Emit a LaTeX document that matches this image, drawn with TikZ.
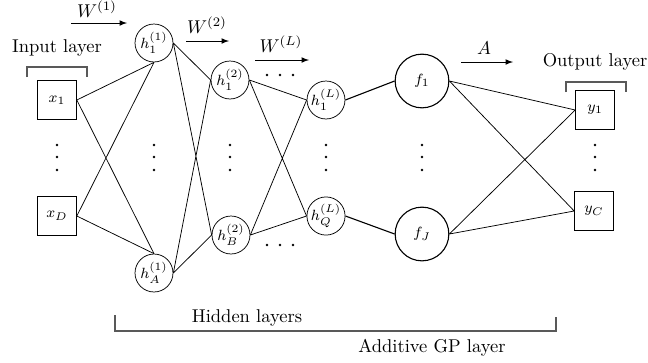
\documentclass[tikz,border=0pt]{standalone}
\usepackage{amsmath}
\usepackage{tikz}

\begin{document}
\begin{tikzpicture}[x=0.54pt,y=-0.54pt,
  unit/.style={draw, shape=circle, minimum size=20.5pt, inner sep=0pt, font=\footnotesize},
  gpunit/.style={draw, semithick, shape=circle, minimum size=29pt, inner sep=0pt, font=\footnotesize},
  io/.style={draw, shape=rectangle, minimum size=21pt, inner sep=0pt, font=\footnotesize},
  lbl/.style={anchor=base, inner sep=0pt},
  brace/.style={draw=black!65, semithick}]
\useasboundingbox (0,0) rectangle (648,362);
% input and output layers
\node at (57,100) [io] (x1) {$x_1$};
\node at (57,216) [io] (xD) {$x_D$};
\node at (595,110) [io] (y1) {$y_1$};
\node at (594,211) [io] (yC) {$y_C$};
% hidden layers
\node at (154,43) [unit] (h11) {$h_1^{(1)}$};
\node at (154,273) [unit] (hA1) {$h_A^{(1)}$};
\node at (230,80) [unit] (h12) {$h_1^{(2)}$};
\node at (231,235) [unit] (hB2) {$h_B^{(2)}$};
\node at (326,100) [unit] (h1L) {$h_1^{(L)}$};
\node at (326,216) [unit] (hQL) {$h_Q^{(L)}$};
% additive GP layer
\node at (422,81) [gpunit] (f1) {$f_1$};
\node at (422,234) [gpunit] (fJ) {$f_J$};
% dots
\foreach \x in {57,154,230,326,422,595}
  \foreach \y in {145,157,170}
    \fill (\x,\y) circle (0.8pt);
\foreach \x in {267,280,293}
  \fill (\x,75) circle (0.8pt) (\x,245) circle (0.8pt);
% connections
\draw
(x1.east) -- (h11.south)  (x1.east) -- (hA1.north)
(xD.east) -- (h11.south)  (xD.east) -- (hA1.north)
(h11.east) -- (h12.west)  (h11.east) -- (hB2.west)
(hA1.east) -- (h12.west)  (hA1.east) -- (hB2.west)
(h12.east) -- (h1L.west)  (h12.east) -- (hQL.west)
(hB2.east) -- (h1L.west)  (hB2.east) -- (hQL.west)
(f1.east) -- (y1.west)  (f1.east) -- (yC.west)
(fJ.east) -- (y1.west)  (fJ.east) -- (yC.west);
\draw[semithick] (h1L.east) -- (f1.west) (hQL.east) -- (fJ.west);
% weight arrows
\coordinate (w1a) at (71,23);   \coordinate (w1b) at (127,23);
\coordinate (w2a) at (186,41);  \coordinate (w2b) at (229,41);
\coordinate (wLa) at (255,60);  \coordinate (wLb) at (309,60);
\coordinate (aa) at (461,62);   \coordinate (ab) at (513,62);
\draw[-latex] (w1a) -- (w1b);
\draw[-latex] (w2a) -- (w2b);
\draw[-latex] (wLa) -- (wLb);
\draw[-latex] (aa) -- (ab);
\node at (97,17) [lbl] {$W^{(1)}$};
\node at (207,33) [lbl] {$W^{(2)}$};
\node at (281,52) [lbl] {$W^{(L)}$};
\node at (484,54) [lbl] {$A$};
% layer labels
\node at (57,52) [lbl] {Input layer};
\node at (595,66) [lbl] {Output layer};
\node at (247,322) [lbl] {Hidden layers};
\node at (432,352) [lbl] {Additive GP layer};
\coordinate (ib1) at (27,77);  \coordinate (ib2) at (27,67);
\coordinate (ib3) at (87,67);  \coordinate (ib4) at (87,77);
\coordinate (ob1) at (566,92); \coordinate (ob2) at (566,82);
\coordinate (ob3) at (626,82); \coordinate (ob4) at (626,92);
\coordinate (hb1) at (115,315); \coordinate (hb2) at (115,331);
\coordinate (hb3) at (556,331); \coordinate (hb4) at (556,317);
\draw[brace] (ib1) -- (ib2) -- (ib3) -- (ib4);
\draw[brace] (ob1) -- (ob2) -- (ob3) -- (ob4);
\draw[brace] (hb1) -- (hb2) -- (hb3) -- (hb4);
\end{tikzpicture}
\end{document}
